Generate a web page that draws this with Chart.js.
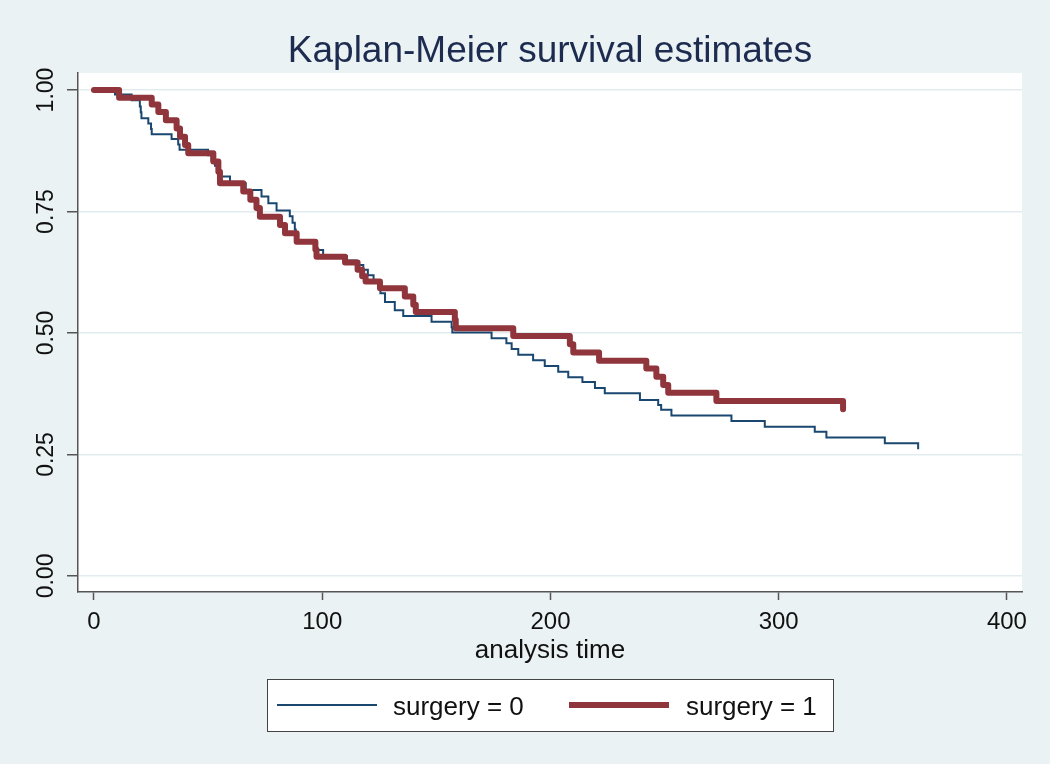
<!DOCTYPE html>
<html>
<head>
<meta charset="utf-8">
<script src="https://cdn.jsdelivr.net/npm/chart.js@4/dist/chart.umd.min.js"></script>
<style>
html,body{margin:0;padding:0;background:#eaf2f3;}
canvas{display:block;}
</style>
</head>
<body>
<canvas id="c" width="1050" height="764"></canvas>
<script>
// ---- chart text ----
const chartTitle = 'Kaplan-Meier survival estimates';
const xTitle = 'analysis time';
const seriesNames = ['surgery = 0', 'surgery = 1'];

// ---- ticks ----
const xTicks = [0, 100, 200, 300, 400];
const xTickLabels = ['0', '100', '200', '300', '400'];
const yTicks = [0, 0.25, 0.5, 0.75, 1];
const yTickLabels = ['0.00', '0.25', '0.50', '0.75', '1.00'];

// ---- surgery = 0 : step times and survival estimates ----
const time0 = [0, 9.2, 16.5, 20.1, 20.5, 20.8, 23.8, 25, 25.3, 34,
  36.9, 37.5, 50, 51.5, 53, 54, 55, 59.6, 66.5, 73.4,
  76.4, 80, 85.8, 87, 88, 88.4, 88.8, 97.5, 100.4, 110.7,
  115, 118, 120, 122.5, 124.5, 125.5, 127.5, 131.8, 135.5, 147.9,
  156.7, 157, 174.2, 180.7, 183, 185.9, 192.4, 197.5, 203.4, 207.8,
  214, 219.5, 223.8, 239.2, 247.2, 248.5, 253, 279.3, 293.9, 315.8,
  320.9, 346.5, 361.1];
const surv0 = [1.000, 0.991, 0.979, 0.966, 0.954, 0.942, 0.931, 0.920, 0.909, 0.899,
  0.888, 0.877, 0.866, 0.855, 0.844, 0.833, 0.822, 0.808, 0.794, 0.781,
  0.767, 0.752, 0.740, 0.727, 0.713, 0.699, 0.685, 0.671, 0.658, 0.649,
  0.640, 0.630, 0.619, 0.609, 0.595, 0.582, 0.564, 0.547, 0.535, 0.523,
  0.512, 0.501, 0.489, 0.479, 0.467, 0.455, 0.444, 0.432, 0.420, 0.409,
  0.399, 0.387, 0.376, 0.362, 0.352, 0.342, 0.330, 0.319, 0.307, 0.297,
  0.285, 0.273, 0.261];

// ---- surgery = 1 : step times and survival estimates ----
const time1 = [0, 11, 25.3, 28.2, 31.5, 36.2, 37.7, 39.9, 41.3, 52.3,
  54.5, 55.2, 65.4, 68.5, 71.2, 72.7, 81.5, 83.7, 88.8, 97,
  97.5, 110, 115.5, 117.5, 119, 125.3, 136.2, 139.9, 141, 158.1,
  158.5, 183.7, 208.5, 210, 221.3, 242, 246.4, 249.4, 251.6, 272.7,
  328.2];
const surv1 = [1.000, 0.984, 0.970, 0.955, 0.938, 0.921, 0.904, 0.887, 0.870, 0.853,
  0.832, 0.808, 0.791, 0.774, 0.757, 0.739, 0.722, 0.705, 0.688, 0.672,
  0.657, 0.645, 0.630, 0.617, 0.606, 0.592, 0.575, 0.558, 0.543, 0.527,
  0.510, 0.494, 0.477, 0.460, 0.443, 0.427, 0.410, 0.393, 0.377, 0.360,
  0.343];

const BLUE = '#1a476f';
const RED = '#90353b';
const BG = '#eaf2f3';
const GRID = '#e2ebee';
const AXIS = '#555555';
const FONT = "'Liberation Sans', Arial, Helvetica, sans-serif";

Chart.defaults.font.family = FONT;

const toPoints = (t, s) => t.map((v, i) => ({ x: v, y: s[i] }));

const backgroundPlugin = {
  id: 'bg',
  beforeDraw(chart) {
    const c = chart.ctx, a = chart.chartArea;
    c.save();
    c.fillStyle = BG;
    c.fillRect(0, 0, chart.width, chart.height);
    c.fillStyle = '#ffffff';
    c.fillRect(a.left, a.top, a.right - a.left, a.bottom - a.top);
    c.restore();
  }
};

const textPlugin = {
  id: 'texts',
  afterDraw(chart) {
    const c = chart.ctx, a = chart.chartArea, ys = chart.scales.y;
    c.save();
    // title
    c.fillStyle = '#1c2b4f';
    c.font = '37px ' + FONT;
    c.textAlign = 'center';
    c.textBaseline = 'alphabetic';
    c.fillText(chartTitle, (a.left + a.right) / 2, 62);
    // rotated y tick labels
    c.fillStyle = '#111111';
    c.font = '23px ' + FONT;
    yTicks.forEach((v, i) => {
      const py = ys.getPixelForValue(v);
      c.save();
      c.translate(53, py);
      c.rotate(-Math.PI / 2);
      c.textAlign = 'center';
      c.textBaseline = 'alphabetic';
      c.fillText(yTickLabels[i], 0, 0);
      c.restore();
    });
    // legend
    const bx = 267, by = 679, bw = 566, bh = 52, cy = 705;
    c.fillStyle = '#ffffff';
    c.fillRect(bx, by, bw, bh);
    c.strokeStyle = '#444444';
    c.lineWidth = 1;
    c.strokeRect(bx + 0.5, by + 0.5, bw, bh);
    const ds = chart.data.datasets;
    const items = [
      { d: ds[0], x0: 277, x1: 377, tx: 393 },
      { d: ds[1], x0: 569, x1: 669, tx: 686 }
    ];
    items.forEach(it => {
      c.strokeStyle = it.d.borderColor;
      c.lineWidth = it.d.borderWidth;
      c.lineCap = 'butt';
      c.beginPath();
      c.moveTo(it.x0, cy);
      c.lineTo(it.x1, cy);
      c.stroke();
      c.fillStyle = '#111111';
      c.font = '26px ' + FONT;
      c.textAlign = 'left';
      c.textBaseline = 'alphabetic';
      c.fillText(it.d.label, it.tx, cy + 10);
    });
    c.restore();
  }
};

new Chart(document.getElementById('c'), {
  type: 'line',
  data: {
    datasets: [
      {
        label: seriesNames[0],
        data: toPoints(time0, surv0),
        borderColor: BLUE,
        borderWidth: 2,
        stepped: 'before',
        pointRadius: 0,
        fill: false,
        order: 1
      },
      {
        label: seriesNames[1],
        data: toPoints(time1, surv1),
        borderColor: RED,
        borderWidth: 6,
        stepped: 'before',
        pointRadius: 0,
        fill: false,
        borderCapStyle: 'round',
        borderJoinStyle: 'round',
        order: 0
      }
    ]
  },
  options: {
    responsive: false,
    devicePixelRatio: 1,
    animation: false,
    layout: { padding: { top: 73, left: 0, right: 28, bottom: 92 } },
    plugins: {
      legend: { display: false },
      title: { display: false },
      tooltip: { enabled: false }
    },
    scales: {
      x: {
        type: 'linear',
        min: -7,
        max: 406.6,
        afterBuildTicks: s => { s.ticks = xTicks.map(v => ({ value: v })); },
        afterFit: s => { s.height = 80; },
        grid: { drawOnChartArea: false, drawTicks: true, tickLength: 8, tickColor: AXIS, tickWidth: 1.5 },
        border: { display: true, color: AXIS, width: 1.5 },
        ticks: {
          padding: 8,
          color: '#111111',
          font: { size: 24 },
          maxRotation: 0,
          autoSkip: false,
          callback: v => xTickLabels[xTicks.indexOf(v)]
        },
        title: {
          display: true,
          text: xTitle,
          color: '#111111',
          font: { size: 26 },
          padding: { top: 0, bottom: 6 }
        }
      },
      y: {
        type: 'linear',
        min: -0.033,
        max: 1.035,
        afterBuildTicks: s => { s.ticks = yTicks.map(v => ({ value: v })); },
        afterFit: s => { s.width = 78; },
        grid: { color: GRID, lineWidth: 1.5, drawTicks: true, tickLength: 11, tickColor: AXIS, tickWidth: 1.5 },
        border: { display: true, color: AXIS, width: 1.5 },
        ticks: { display: false }
      }
    }
  },
  plugins: [backgroundPlugin, textPlugin]
});
</script>
</body>
</html>
